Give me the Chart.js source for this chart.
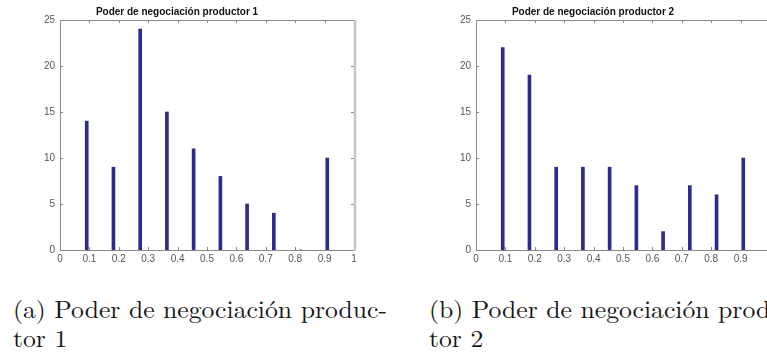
<!DOCTYPE html>
<html>
<head>
<meta charset="utf-8">
<script src="https://cdn.jsdelivr.net/npm/chart.js@4.4.1/dist/chart.umd.min.js"></script>
<style>
  html, body { margin:0; padding:0; background:#fff; width:767px; height:354px; overflow:hidden; }
  body { position:relative; }
  canvas { position:absolute; top:0; }
  #c1 { left:0; }
  #c2 { left:416px; }
  .cap { position:absolute; font-family:'Latin Modern Roman', 'Liberation Serif', serif; font-size:24px; line-height:29px;
         color:#161616; white-space:nowrap; transform-origin:0 0; }
</style>
</head>
<body>
<canvas id="c1" width="383" height="270"></canvas>
<canvas id="c2" width="383" height="270"></canvas>
<div class="cap" id="capA" style="left:13px; top:294px;">(a) Poder de negociación produc-<br>tor 1</div>
<div class="cap" id="capB" style="left:429px; top:294px;">(b) Poder de negociación produc-<br>tor 2</div>
<script>
// ---- data ----
const binCenters = [0.0909, 0.1818, 0.2727, 0.3636, 0.4545, 0.5455, 0.6364, 0.7273, 0.8182, 0.9091];
const counts1 = [14, 9, 24, 15, 11, 8, 5, 4, 0, 10];
const counts2 = [22, 19, 9, 9, 9, 7, 2, 7, 6, 10];
const xTickLabels = ['0', '0.1', '0.2', '0.3', '0.4', '0.5', '0.6', '0.7', '0.8', '0.9', '1'];
const yTickLabels = ['0', '5', '10', '15', '20', '25'];
const title1 = 'Poder de negociación productor 1';
const title2 = 'Poder de negociación productor 2';

const barColor = '#2f2b8c';
const axisColor = '#8a8a8a';

const boxPlugin = {
  id: 'box',
  afterDatasetsDraw(chart) {
    const ctx = chart.ctx;
    const { left, right, top, bottom } = chart.chartArea;
    const xs = chart.scales.x, ys = chart.scales.y;
    ctx.save();
    ctx.strokeStyle = axisColor;
    ctx.lineWidth = 1;
    ctx.beginPath();
    xs.ticks.forEach(t => {
      const px = Math.round(xs.getPixelForValue(t.value)) + 0.5;
      ctx.moveTo(px, bottom); ctx.lineTo(px, bottom - 3);
      ctx.moveTo(px, top); ctx.lineTo(px, top + 3);
    });
    ys.ticks.forEach(t => {
      const py = Math.round(ys.getPixelForValue(t.value)) + 0.5;
      ctx.moveTo(left, py); ctx.lineTo(left + 3, py);
      ctx.moveTo(right, py); ctx.lineTo(right - 3, py);
    });
    ctx.stroke();
    ctx.beginPath();
    const L = Math.round(left) + 0.5, R = Math.round(right) + 0.5, T = Math.round(top) + 0.5, B = Math.round(bottom) + 0.5;
    ctx.moveTo(R, T); ctx.lineTo(L, T); ctx.lineTo(L, B); ctx.lineTo(R, B);
    ctx.stroke();
    ctx.strokeStyle = '#c6c6c6';
    ctx.lineWidth = 2.5;
    ctx.beginPath();
    ctx.moveTo(R + 0.5, T); ctx.lineTo(R + 0.5, B);
    ctx.stroke();
    ctx.restore();
  }
};

function makeChart(id, counts, title) {
  return new Chart(document.getElementById(id), {
    type: 'bar',
    data: {
      datasets: [{
        data: binCenters.map((c, i) => ({ x: c, y: counts[i] })),
        backgroundColor: barColor,
        borderWidth: 0,
        barThickness: 3
      }]
    },
    options: {
      responsive: false,
      animation: false,
      devicePixelRatio: 1,
      layout: { padding: { left: 0, right: 29, top: 0, bottom: 0 } },
      plugins: {
        legend: { display: false },
        tooltip: { enabled: false },
        title: {
          display: true, text: title, color: '#111',
          font: { family: 'Arial, "Liberation Sans", sans-serif', size: 10, weight: 'bold', lineHeight: 1.2 },
          padding: { top: 6, bottom: 2 }
        }
      },
      scales: {
        x: {
          type: 'linear', min: 0, max: 1, offset: false,
          grid: { display: false, drawTicks: false },
          border: { display: false },
          ticks: {
            stepSize: 0.1, padding: 3, color: '#555', maxRotation: 0, autoSkip: false,
            font: { family: 'Arial, "Liberation Sans", sans-serif', size: 10 },
            callback: (v, i) => xTickLabels[i]
          },
          afterFit: s => { s.height = 20; }
        },
        y: {
          min: 0, max: 25,
          grid: { display: false, drawTicks: false },
          border: { display: false },
          ticks: {
            stepSize: 5, padding: 5, color: '#555',
            font: { family: 'Arial, "Liberation Sans", sans-serif', size: 10 },
            callback: (v, i) => yTickLabels[i]
          },
          afterFit: s => { s.width = 60; }
        }
      }
    },
    plugins: [boxPlugin]
  });
}

makeChart('c1', counts1, title1);
makeChart('c2', counts2, title2);

// fit caption width to reference (line 1 spans ~374px)
function fitCaptions() {
  const el = document.getElementById('capA');
  const r = document.createRange();
  r.selectNodeContents(el.firstChild);
  const w = r.getBoundingClientRect().width;
  const k = 374 / w;
  ['capA', 'capB'].forEach(id => {
    document.getElementById(id).style.transform = 'scaleX(' + k.toFixed(3) + ')';
  });
}
fitCaptions();
if (document.fonts && document.fonts.ready) document.fonts.ready.then(() => { document.getElementById('capA').style.transform=''; document.getElementById('capB').style.transform=''; fitCaptions(); });
</script>
</body>
</html>
